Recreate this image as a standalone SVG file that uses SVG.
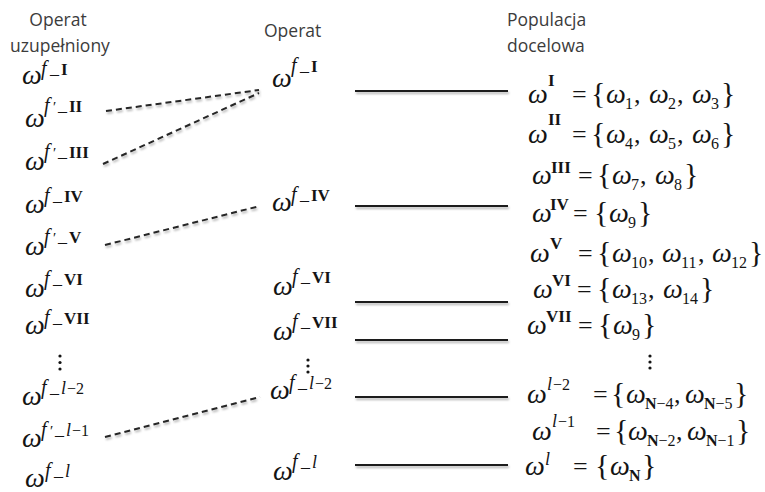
<svg xmlns="http://www.w3.org/2000/svg" width="765" height="492" viewBox="0 0 765 492">
<style>
text { font-family: "Liberation Serif", "Times New Roman", serif; fill: #141414; }
.h { font-family: "Open Sans", "Liberation Sans", sans-serif; font-size: 17.5px; fill: #3c3c3c; }
.w { font-size: 28px; font-style: italic; }
.f { font-size: 20px; font-style: italic; }
.l { font-size: 18px; font-style: italic; }
.u { font-size: 18px; }
.r { font-size: 17px; font-weight: bold; }
.n { font-size: 16px; }
.p { font-size: 15px; }
.e { font-size: 26px; }
.b { font-size: 30px; }
.d { fill: #141414; }
.dash { stroke: #262626; stroke-width: 2; stroke-dasharray: 6 4; fill: none; }
.solid { stroke: #1e1e1e; stroke-width: 2.2; fill: none; }
</style>
<defs>
<filter id="sh" x="-5%" y="-50%" width="110%" height="300%">
<feDropShadow dx="1" dy="2" stdDeviation="1" flood-color="#000" flood-opacity="0.3"/>
</filter>
</defs>

<g id="headers">
<text class="h" x="58" y="26" text-anchor="middle">Operat</text>
<text class="h" x="60" y="52" text-anchor="middle">uzupełniony</text>
<text class="h" x="264" y="37">Operat</text>
<text class="h" x="507" y="26">Populacja</text>
<text class="h" x="507" y="52">docelowa</text>
</g>

<g id="connectors" filter="url(#sh)">
<line class="dash" x1="106" y1="111" x2="259" y2="90"/>
<line class="dash" x1="103" y1="164" x2="259" y2="93"/>
<line class="dash" x1="105" y1="245" x2="260" y2="206"/>
<line class="dash" x1="105" y1="437" x2="260" y2="397"/>
<line class="solid" x1="355" y1="91" x2="508" y2="91"/>
<line class="solid" x1="355" y1="206" x2="508" y2="206"/>
<line class="solid" x1="355" y1="302" x2="508" y2="302"/>
<line class="solid" x1="355" y1="340" x2="508" y2="340"/>
<line class="solid" x1="355" y1="397" x2="508" y2="397"/>
<line class="solid" x1="355" y1="465" x2="508" y2="465"/>
</g>

<!-- Left column: Operat uzupełniony -->
<g id="L1" transform="translate(22,84)"><text><tspan class="w" x="0" y="0">ω</tspan><tspan class="f" x="19" y="-9">f</tspan><tspan class="u" x="28" y="-10">_</tspan><tspan class="r" x="39" y="-9">I</tspan></text></g>
<g id="L2" transform="translate(25,127)"><text><tspan class="w" x="0" y="0">ω</tspan><tspan class="f" x="19" y="-15">f</tspan><tspan class="p" x="28" y="-15">′</tspan><tspan class="u" x="33" y="-16">_</tspan><tspan class="r" x="44" y="-15">II</tspan></text></g>
<g id="L3" transform="translate(25,170)"><text><tspan class="w" x="0" y="0">ω</tspan><tspan class="f" x="19" y="-12">f</tspan><tspan class="p" x="28" y="-12">′</tspan><tspan class="u" x="33" y="-13">_</tspan><tspan class="r" x="44" y="-12">III</tspan></text></g>
<g id="L4" transform="translate(25,213)"><text><tspan class="w" x="0" y="0">ω</tspan><tspan class="f" x="19" y="-11">f</tspan><tspan class="u" x="28" y="-12">_</tspan><tspan class="r" x="39" y="-11">IV</tspan></text></g>
<g id="L5" transform="translate(25,255)"><text><tspan class="w" x="0" y="0">ω</tspan><tspan class="f" x="19" y="-12">f</tspan><tspan class="p" x="28" y="-12">′</tspan><tspan class="u" x="33" y="-13">_</tspan><tspan class="r" x="44" y="-12">V</tspan></text></g>
<g id="L6" transform="translate(25,297)"><text><tspan class="w" x="0" y="0">ω</tspan><tspan class="f" x="19" y="-12">f</tspan><tspan class="u" x="28" y="-13">_</tspan><tspan class="r" x="39" y="-12">VI</tspan></text></g>
<g id="L7" transform="translate(25,334)"><text><tspan class="w" x="0" y="0">ω</tspan><tspan class="f" x="19" y="-10">f</tspan><tspan class="u" x="28" y="-11">_</tspan><tspan class="r" x="39" y="-10">VII</tspan></text></g>
<g id="L8" class="d"><circle cx="60" cy="356" r="1.6"/><circle cx="60" cy="362.5" r="1.6"/><circle cx="60" cy="369" r="1.6"/></g>
<g id="L9" transform="translate(22,405)"><text><tspan class="w" x="0" y="0">ω</tspan><tspan class="f" x="19" y="-11">f</tspan><tspan class="u" x="28" y="-12">_</tspan><tspan class="l" x="39" y="-11">l</tspan><tspan class="n" x="45" y="-11">−2</tspan></text></g>
<g id="L10" transform="translate(22,447)"><text><tspan class="w" x="0" y="0">ω</tspan><tspan class="f" x="19" y="-11">f</tspan><tspan class="p" x="28" y="-11">′</tspan><tspan class="u" x="33" y="-12">_</tspan><tspan class="l" x="44" y="-11">l</tspan><tspan class="n" x="50" y="-11">−1</tspan></text></g>
<g id="L11" transform="translate(25,487)"><text><tspan class="w" x="0" y="0">ω</tspan><tspan class="f" x="20" y="-10">f</tspan><tspan class="u" x="29" y="-11">_</tspan><tspan class="l" x="40" y="-10">l</tspan></text></g>

<!-- Middle column: Operat -->
<g id="M1" transform="translate(272,87)"><text><tspan class="w" x="0" y="0">ω</tspan><tspan class="f" x="19" y="-15">f</tspan><tspan class="u" x="28" y="-16">_</tspan><tspan class="r" x="39" y="-15">I</tspan></text></g>
<g id="M2" transform="translate(272,211)"><text><tspan class="w" x="0" y="0">ω</tspan><tspan class="f" x="19" y="-10">f</tspan><tspan class="u" x="28" y="-11">_</tspan><tspan class="r" x="39" y="-10">IV</tspan></text></g>
<g id="M3" transform="translate(273,295)"><text><tspan class="w" x="0" y="0">ω</tspan><tspan class="f" x="19" y="-12">f</tspan><tspan class="u" x="28" y="-13">_</tspan><tspan class="r" x="39" y="-12">VI</tspan></text></g>
<g id="M4" transform="translate(273,340)"><text><tspan class="w" x="0" y="0">ω</tspan><tspan class="f" x="19" y="-12">f</tspan><tspan class="u" x="28" y="-13">_</tspan><tspan class="r" x="39" y="-12">VII</tspan></text></g>
<g id="M5" class="d"><circle cx="308" cy="360" r="1.6"/><circle cx="308" cy="366" r="1.6"/><circle cx="308" cy="372" r="1.6"/></g>
<g id="M6" transform="translate(270,399)"><text><tspan class="w" x="0" y="0">ω</tspan><tspan class="f" x="19" y="-10">f</tspan><tspan class="u" x="28" y="-11">_</tspan><tspan class="l" x="39" y="-10">l</tspan><tspan class="n" x="45" y="-10">−2</tspan></text></g>
<g id="M7" transform="translate(273,480)"><text><tspan class="w" x="0" y="0">ω</tspan><tspan class="f" x="19" y="-12">f</tspan><tspan class="u" x="28" y="-13">_</tspan><tspan class="l" x="39" y="-12">l</tspan></text></g>

<!-- Right column: Populacja docelowa -->
<g id="R1" transform="translate(528,103)"><text><tspan class="w" x="0" y="0">ω</tspan><tspan class="r" x="20" y="-17">I</tspan><tspan class="e" x="44" y="0">=</tspan><tspan class="b" x="63" y="0">{</tspan><tspan class="w" x="78" y="0">ω</tspan><tspan class="n" x="97" y="6">1</tspan><tspan class="e" x="106" y="0">,</tspan><tspan class="w" x="121" y="0">ω</tspan><tspan class="n" x="140" y="6">2</tspan><tspan class="e" x="149" y="0">,</tspan><tspan class="w" x="164" y="0">ω</tspan><tspan class="n" x="183" y="6">3</tspan><tspan class="b" x="193" y="0">}</tspan></text></g>
<g id="R2" transform="translate(528,143)"><text><tspan class="w" x="0" y="0">ω</tspan><tspan class="r" x="20" y="-18">II</tspan><tspan class="e" x="44" y="0">=</tspan><tspan class="b" x="63" y="0">{</tspan><tspan class="w" x="78" y="0">ω</tspan><tspan class="n" x="97" y="6">4</tspan><tspan class="e" x="106" y="0">,</tspan><tspan class="w" x="121" y="0">ω</tspan><tspan class="n" x="140" y="6">5</tspan><tspan class="e" x="149" y="0">,</tspan><tspan class="w" x="164" y="0">ω</tspan><tspan class="n" x="183" y="6">6</tspan><tspan class="b" x="193" y="0">}</tspan></text></g>
<g id="R3" transform="translate(532,184)"><text><tspan class="w" x="0" y="0">ω</tspan><tspan class="r" x="19" y="-11">III</tspan><tspan class="e" x="46" y="0">=</tspan><tspan class="b" x="65" y="0">{</tspan><tspan class="w" x="80" y="0">ω</tspan><tspan class="n" x="99" y="6">7</tspan><tspan class="e" x="108" y="0">,</tspan><tspan class="w" x="123" y="0">ω</tspan><tspan class="n" x="142" y="6">8</tspan><tspan class="b" x="152" y="0">}</tspan></text></g>
<g id="R4" transform="translate(532,222)"><text><tspan class="w" x="0" y="0">ω</tspan><tspan class="r" x="18" y="-12">IV</tspan><tspan class="e" x="41" y="0">=</tspan><tspan class="b" x="62" y="0">{</tspan><tspan class="w" x="77" y="0">ω</tspan><tspan class="n" x="96" y="6">9</tspan><tspan class="b" x="106" y="0">}</tspan></text></g>
<g id="R5" transform="translate(530,262)"><text><tspan class="w" x="0" y="0">ω</tspan><tspan class="r" x="20" y="-13">V</tspan><tspan class="e" x="48" y="0">=</tspan><tspan class="b" x="67" y="0">{</tspan><tspan class="w" x="82" y="0">ω</tspan><tspan class="n" x="101" y="6">10</tspan><tspan class="e" x="118" y="0">,</tspan><tspan class="w" x="132" y="0">ω</tspan><tspan class="n" x="151" y="6">11</tspan><tspan class="e" x="168" y="0">,</tspan><tspan class="w" x="182" y="0">ω</tspan><tspan class="n" x="201" y="6">12</tspan><tspan class="b" x="219" y="0">}</tspan></text></g>
<g id="R6" transform="translate(533,298)"><text><tspan class="w" x="0" y="0">ω</tspan><tspan class="r" x="19" y="-12">VI</tspan><tspan class="e" x="44" y="0">=</tspan><tspan class="b" x="64" y="0">{</tspan><tspan class="w" x="79" y="0">ω</tspan><tspan class="n" x="98" y="6">13</tspan><tspan class="e" x="115" y="0">,</tspan><tspan class="w" x="130" y="0">ω</tspan><tspan class="n" x="149" y="6">14</tspan><tspan class="b" x="167" y="0">}</tspan></text></g>
<g id="R7" transform="translate(527,334)"><text><tspan class="w" x="0" y="0">ω</tspan><tspan class="r" x="19" y="-12">VII</tspan><tspan class="e" x="51" y="0">=</tspan><tspan class="b" x="71" y="0">{</tspan><tspan class="w" x="86" y="0">ω</tspan><tspan class="n" x="105" y="6">9</tspan><tspan class="b" x="115" y="0">}</tspan></text></g>
<g id="R8" class="d"><circle cx="650" cy="356" r="1.6"/><circle cx="650" cy="362" r="1.6"/><circle cx="650" cy="368" r="1.6"/></g>
<g id="R9" transform="translate(527,403)"><text><tspan class="w" x="0" y="0">ω</tspan><tspan class="l" x="20" y="-13">l</tspan><tspan class="n" x="26" y="-13">−2</tspan><tspan class="e" x="66" y="0">=</tspan><tspan class="b" x="84" y="0">{</tspan><tspan class="w" x="99" y="0">ω</tspan><tspan class="n" x="118" y="6"><tspan font-weight="bold">N</tspan>−4</tspan><tspan class="e" x="147" y="0">,</tspan><tspan class="w" x="158" y="0">ω</tspan><tspan class="n" x="177" y="6"><tspan font-weight="bold">N</tspan>−5</tspan><tspan class="b" x="207" y="0">}</tspan></text></g>
<g id="R10" transform="translate(532,440)"><text><tspan class="w" x="0" y="0">ω</tspan><tspan class="l" x="20" y="-13">l</tspan><tspan class="n" x="26" y="-13">−1</tspan><tspan class="e" x="64" y="0">=</tspan><tspan class="b" x="82" y="0">{</tspan><tspan class="w" x="96" y="0">ω</tspan><tspan class="n" x="115" y="6"><tspan font-weight="bold">N</tspan>−2</tspan><tspan class="e" x="144" y="0">,</tspan><tspan class="w" x="155" y="0">ω</tspan><tspan class="n" x="174" y="6"><tspan font-weight="bold">N</tspan>−1</tspan><tspan class="b" x="204" y="0">}</tspan></text></g>
<g id="R11" transform="translate(525,475)"><text><tspan class="w" x="0" y="0">ω</tspan><tspan class="l" x="20" y="-10">l</tspan><tspan class="e" x="48" y="0">=</tspan><tspan class="b" x="70" y="0">{</tspan><tspan class="w" x="85" y="0">ω</tspan><tspan class="n" x="104" y="6" font-weight="bold">N</tspan><tspan class="b" x="117" y="0">}</tspan></text></g>
</svg>
